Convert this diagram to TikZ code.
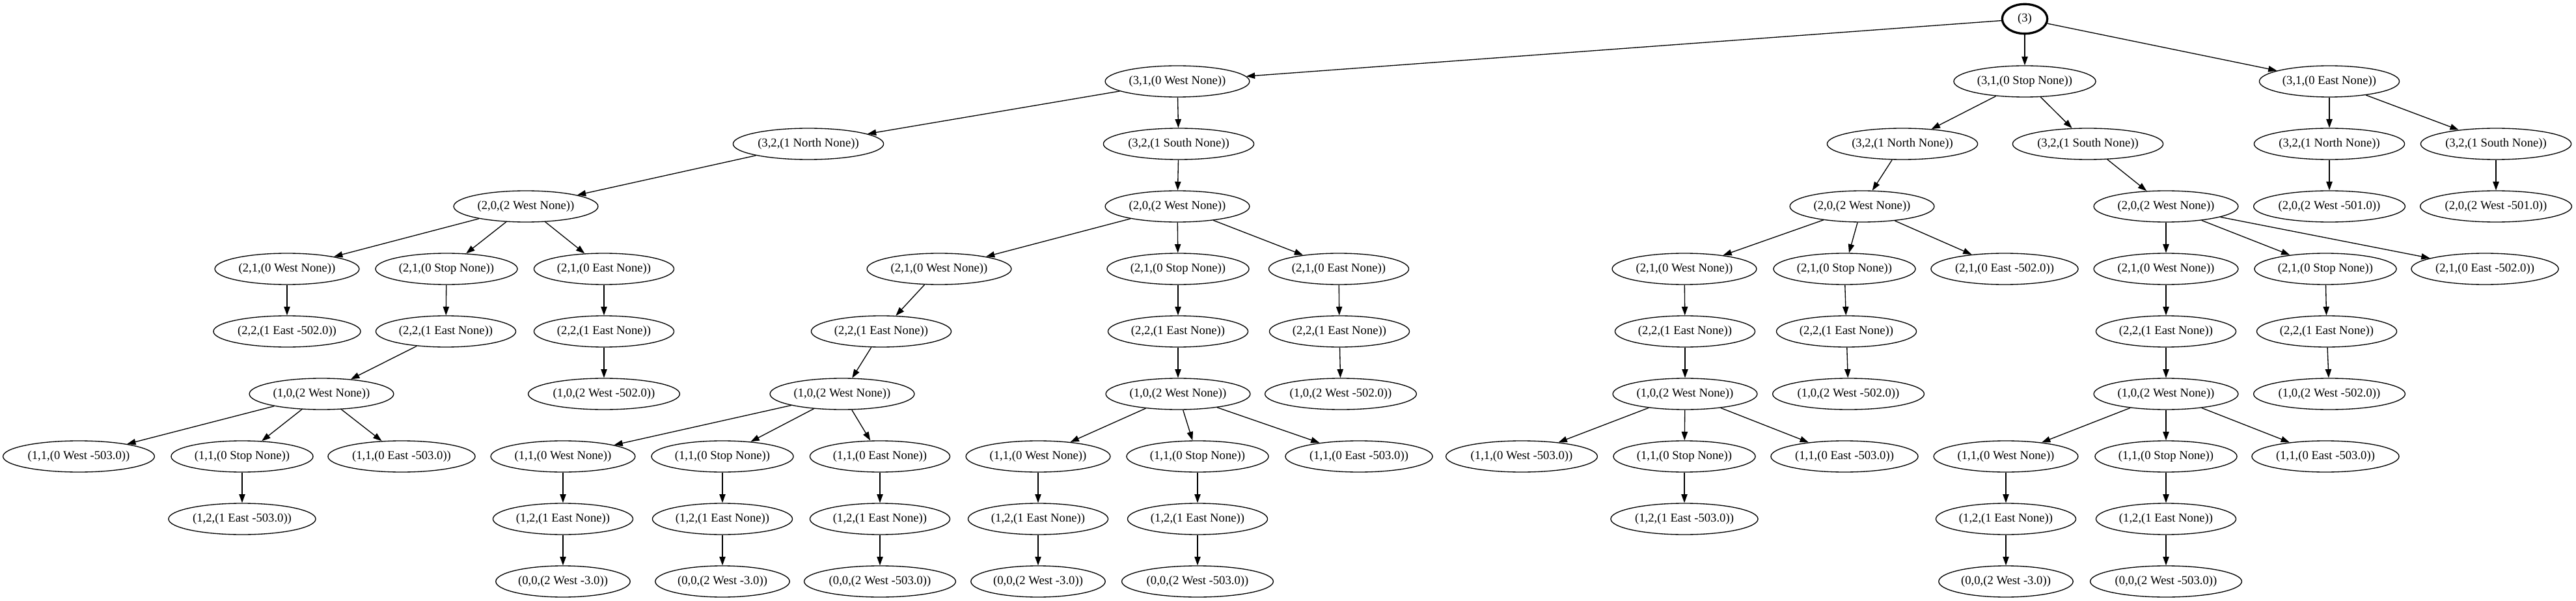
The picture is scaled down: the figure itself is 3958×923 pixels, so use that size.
\documentclass[tikz,border=0pt]{standalone}
\usepackage{fontspec}
\setmainfont{Liberation Serif}
\usetikzlibrary{shapes.geometric,arrows.meta}
\tikzset{
  nd/.style={draw, ellipse, line width=1pt, inner xsep=3pt, inner ysep=2pt,
    minimum height=36pt, font=\fontsize{14pt}{16pt}\selectfont},
  rootnd/.style={nd, line width=2.5pt, minimum width=52pt, minimum height=34pt},
  ar/.style={-{Triangle[length=10pt,width=7pt]}, line width=1pt}
}
\begin{document}
\begin{tikzpicture}[x=0.75pt,y=-0.75pt]
\useasboundingbox (0,0) rectangle (3958,923);
% level 0
\node[rootnd] (r) at (3111,29) {(3)};
% level 1
\node[nd] (w1) at (1809,125) {(3,1,(0 West None))};
\node[nd] (s1) at (3111,125) {(3,1,(0 Stop None))};
\node[nd] (e1) at (3579,125) {(3,1,(0 East None))};
% level 2
\node[nd] (a2) at (1242,221) {(3,2,(1 North None))};
\node[nd] (b2) at (1811,221) {(3,2,(1 South None))};
\node[nd] (c2) at (2923,221) {(3,2,(1 North None))};
\node[nd] (d2) at (3208,221) {(3,2,(1 South None))};
\node[nd] (e2) at (3579,221) {(3,2,(1 North None))};
\node[nd] (f2) at (3835,221) {(3,2,(1 South None))};
% level 3
\node[nd] (a3) at (808,317) {(2,0,(2 West None))};
\node[nd] (b3) at (1809,317) {(2,0,(2 West None))};
\node[nd] (c3) at (2861,317) {(2,0,(2 West None))};
\node[nd] (d3) at (3328,317) {(2,0,(2 West None))};
\node[nd] (e3) at (3579,317) {(2,0,(2 West -501.0))};
\node[nd] (f3) at (3835,317) {(2,0,(2 West -501.0))};
% level 4
\node[nd] (a4w) at (441,413) {(2,1,(0 West None))};
\node[nd] (a4s) at (686,413) {(2,1,(0 Stop None))};
\node[nd] (a4e) at (928,413) {(2,1,(0 East None))};
\node[nd] (b4w) at (1443,413) {(2,1,(0 West None))};
\node[nd] (b4s) at (1810,413) {(2,1,(0 Stop None))};
\node[nd] (b4e) at (2057,413) {(2,1,(0 East None))};
\node[nd] (c4w) at (2588,413) {(2,1,(0 West None))};
\node[nd] (c4s) at (2834,413) {(2,1,(0 Stop None))};
\node[nd] (c4e) at (3080,413) {(2,1,(0 East -502.0))};
\node[nd] (d4w) at (3328,413) {(2,1,(0 West None))};
\node[nd] (d4s) at (3573,413) {(2,1,(0 Stop None))};
\node[nd] (d4e) at (3818,413) {(2,1,(0 East -502.0))};
% level 5
\node[nd] (a5w) at (441,509) {(2,2,(1 East -502.0))};
\node[nd] (a5s) at (685,509) {(2,2,(1 East None))};
\node[nd] (a5e) at (928,509) {(2,2,(1 East None))};
\node[nd] (b5w) at (1354,509) {(2,2,(1 East None))};
\node[nd] (b5s) at (1810,509) {(2,2,(1 East None))};
\node[nd] (b5e) at (2058,509) {(2,2,(1 East None))};
\node[nd] (c5w) at (2589,509) {(2,2,(1 East None))};
\node[nd] (c5s) at (2837,509) {(2,2,(1 East None))};
\node[nd] (d5w) at (3328,509) {(2,2,(1 East None))};
\node[nd] (d5s) at (3575,509) {(2,2,(1 East None))};
% level 6
\node[nd] (a6s) at (494,605) {(1,0,(2 West None))};
\node[nd] (a6e) at (928,605) {(1,0,(2 West -502.0))};
\node[nd] (b6w) at (1294,605) {(1,0,(2 West None))};
\node[nd] (b6s) at (1810,605) {(1,0,(2 West None))};
\node[nd] (b6e) at (2060,605) {(1,0,(2 West -502.0))};
\node[nd] (c6w) at (2589,605) {(1,0,(2 West None))};
\node[nd] (c6s) at (2840,605) {(1,0,(2 West -502.0))};
\node[nd] (d6w) at (3328,605) {(1,0,(2 West None))};
\node[nd] (d6s) at (3579,605) {(1,0,(2 West -502.0))};
% level 7
\node[nd] (p7w) at (121,701) {(1,1,(0 West -503.0))};
\node[nd] (p7s) at (372,701) {(1,1,(0 Stop None))};
\node[nd] (p7e) at (617,701) {(1,1,(0 East -503.0))};
\node[nd] (q7w) at (865,701) {(1,1,(0 West None))};
\node[nd] (q7s) at (1110,701) {(1,1,(0 Stop None))};
\node[nd] (q7e) at (1352,701) {(1,1,(0 East None))};
\node[nd] (r7w) at (1595,701) {(1,1,(0 West None))};
\node[nd] (r7s) at (1840,701) {(1,1,(0 Stop None))};
\node[nd] (r7e) at (2088,701) {(1,1,(0 East -503.0))};
\node[nd] (t7w) at (2338,701) {(1,1,(0 West -503.0))};
\node[nd] (t7s) at (2588,701) {(1,1,(0 Stop None))};
\node[nd] (t7e) at (2834,701) {(1,1,(0 East -503.0))};
\node[nd] (u7w) at (3082,701) {(1,1,(0 West None))};
\node[nd] (u7s) at (3328,701) {(1,1,(0 Stop None))};
\node[nd] (u7e) at (3573,701) {(1,1,(0 East -503.0))};
% level 8
\node[nd] (p8)  at (372,797) {(1,2,(1 East -503.0))};
\node[nd] (q8w) at (865,797) {(1,2,(1 East None))};
\node[nd] (q8s) at (1110,797) {(1,2,(1 East None))};
\node[nd] (q8e) at (1352,797) {(1,2,(1 East None))};
\node[nd] (r8w) at (1595,797) {(1,2,(1 East None))};
\node[nd] (r8s) at (1840,797) {(1,2,(1 East None))};
\node[nd] (t8)  at (2588,797) {(1,2,(1 East -503.0))};
\node[nd] (u8w) at (3082,797) {(1,2,(1 East None))};
\node[nd] (u8s) at (3328,797) {(1,2,(1 East None))};
% level 9
\node[nd] (q9w) at (865,893) {(0,0,(2 West -3.0))};
\node[nd] (q9s) at (1110,893) {(0,0,(2 West -3.0))};
\node[nd] (q9e) at (1352,893) {(0,0,(2 West -503.0))};
\node[nd] (r9w) at (1595,893) {(0,0,(2 West -3.0))};
\node[nd] (r9s) at (1840,893) {(0,0,(2 West -503.0))};
\node[nd] (u9w) at (3082,893) {(0,0,(2 West -3.0))};
\node[nd] (u9s) at (3328,893) {(0,0,(2 West -503.0))};
% edges
\foreach \p/\c in {r/w1, r/s1, r/e1,
  w1/a2, w1/b2, s1/c2, s1/d2, e1/e2, e1/f2,
  a2/a3, b2/b3, c2/c3, d2/d3, e2/e3, f2/f3,
  a3/a4w, a3/a4s, a3/a4e, b3/b4w, b3/b4s, b3/b4e,
  c3/c4w, c3/c4s, c3/c4e, d3/d4w, d3/d4s, d3/d4e,
  a4w/a5w, a4s/a5s, a4e/a5e, b4w/b5w, b4s/b5s, b4e/b5e,
  c4w/c5w, c4s/c5s, d4w/d5w, d4s/d5s,
  a5s/a6s, a5e/a6e, b5w/b6w, b5s/b6s, b5e/b6e,
  c5w/c6w, c5s/c6s, d5w/d6w, d5s/d6s,
  a6s/p7w, a6s/p7s, a6s/p7e, b6w/q7w, b6w/q7s, b6w/q7e,
  b6s/r7w, b6s/r7s, b6s/r7e, c6w/t7w, c6w/t7s, c6w/t7e,
  d6w/u7w, d6w/u7s, d6w/u7e,
  p7s/p8, q7w/q8w, q7s/q8s, q7e/q8e, r7w/r8w, r7s/r8s,
  t7s/t8, u7w/u8w, u7s/u8s,
  q8w/q9w, q8s/q9s, q8e/q9e, r8w/r9w, r8s/r9s, u8w/u9w, u8s/u9s}
  \draw[ar] (\p) -- (\c);
\end{tikzpicture}
\end{document}
